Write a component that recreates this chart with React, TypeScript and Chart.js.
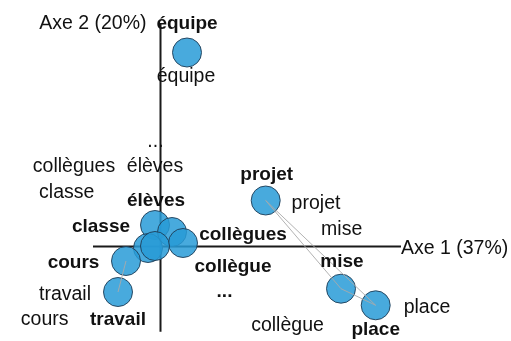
import { useEffect, useRef } from 'react';
import { Chart, registerables } from 'chart.js';

Chart.register(...registerables);

// Row points (bold labels, drawn as circles)
const rowLabels = ['élèves', 'collègue', 'collègues', 'classe', '...', 'cours', 'travail', 'équipe', 'projet', 'mise', 'place'];
const rowX = [-0.055, 0.115, 0.225, -0.125, -0.055, -0.345, -0.425, 0.265, 1.052, 1.805, 2.152];
const rowY = [0.215, 0.145, 0.035, -0.015, 0.005, -0.145, -0.455, 1.94, 0.46, -0.422, -0.588];

// Column points (plain labels, no marker)
const colLabels = ['équipe', '...', 'collègues', 'élèves', 'classe', 'projet', 'mise', 'place', 'collègue', 'travail', 'cours'];
const colX = [0.255, -0.05, -0.865, -0.055, -0.938, 1.555, 1.812, 2.665, 1.27, -0.955, -1.158];
const colY = [1.699, 1.046, 0.801, 0.801, 0.536, 0.433, 0.173, -0.611, -0.794, -0.484, -0.727];

// Axes
const axisNames = ['Axe 1 (37%)', 'Axe 2 (20%)'];
const axis1Range = [-0.675, 2.405];
const axis2Range = [-0.852, 2.235];

// Links between row points
const links: [string, string][] = [
  ['projet', 'mise'],
  ['projet', 'place'],
  ['mise', 'place'],
  ['cours', 'travail'],
];

// Layout: label offsets (px) of row labels from their points
const rowLabelOffsets: [number, number][] = [
  [1, -19.3], [61, 40], [60, -3], [-47, -16], [69.5, 51], [-52.5, 6.5], [0, 33],
  [0, -23.5], [1, -21], [1, -21.4], [0, 30],
];

const FONT = '"Liberation Sans", Arial, sans-serif';

export default function App() {
  const ref = useRef<HTMLCanvasElement | null>(null);

  useEffect(() => {
    document.body.style.margin = '0';
    const canvas = ref.current;
    if (!canvas) return;

    const idx = (n: string) => rowLabels.indexOf(n);

    const linkSets = links.map(([a, b]) => ({
      type: 'line' as const,
      data: [
        { x: rowX[idx(a)], y: rowY[idx(a)] },
        { x: rowX[idx(b)], y: rowY[idx(b)] },
      ],
      showLine: true,
      borderColor: 'rgba(170,170,170,0.9)',
      borderWidth: 1,
      pointRadius: 0,
      order: 1,
    }));

    const labelPlugin = {
      id: 'labels',
      afterDatasetsDraw(chart: any) {
        const ctx = chart.ctx;
        const xs = chart.scales.x;
        const ys = chart.scales.y;
        ctx.save();
        ctx.fillStyle = '#111';
        // column labels
        ctx.font = `19.5px ${FONT}`;
        ctx.textAlign = 'center';
        ctx.textBaseline = 'middle';
        colLabels.forEach((t, i) => {
          ctx.fillText(t, xs.getPixelForValue(colX[i]), ys.getPixelForValue(colY[i]));
        });
        // row labels
        ctx.font = `bold 19px ${FONT}`;
        ctx.textBaseline = 'alphabetic';
        rowLabels.forEach((t, i) => {
          const [dx, dy] = rowLabelOffsets[i];
          ctx.fillText(t, xs.getPixelForValue(rowX[i]) + dx, ys.getPixelForValue(rowY[i]) + dy);
        });
        // axis names
        ctx.font = `19.5px ${FONT}`;
        ctx.textBaseline = 'middle';
        ctx.textAlign = 'left';
        ctx.fillText(axisNames[0], xs.getPixelForValue(axis1Range[1]), ys.getPixelForValue(0) + 2.5);
        ctx.textAlign = 'right';
        ctx.fillText(axisNames[1], xs.getPixelForValue(0) - 14, ys.getPixelForValue(axis2Range[1]) + 1);
        ctx.restore();
      },
    };

    const chart = new Chart(canvas, {
      type: 'scatter',
      data: {
        datasets: [
          {
            type: 'line',
            data: [{ x: axis1Range[0], y: 0 }, { x: axis1Range[1], y: 0 }],
            showLine: true,
            borderColor: '#1a1a1a',
            borderWidth: 2,
            pointRadius: 0,
            order: 3,
          },
          {
            type: 'line',
            data: [{ x: 0, y: axis2Range[0] }, { x: 0, y: axis2Range[1] }],
            showLine: true,
            borderColor: '#1a1a1a',
            borderWidth: 2,
            pointRadius: 0,
            order: 3,
          },
          {
            data: rowX.map((x, i) => ({ x, y: rowY[i] })),
            pointRadius: 14.5,
            pointHoverRadius: 14.5,
            backgroundColor: 'rgba(40,155,215,0.85)',
            borderColor: 'rgba(30,60,85,0.9)',
            borderWidth: 1,
            order: 2,
          },
          ...linkSets,
        ] as any,
      },
      options: {
        animation: false,
        responsive: true,
        maintainAspectRatio: false,
        layout: { padding: 0, autoPadding: false },
        plugins: { legend: { display: false }, tooltip: { enabled: false } },
        scales: {
          x: { type: 'linear', min: -1.605, max: 3.505, display: false },
          y: { type: 'linear', min: -0.945, max: 2.465, display: false },
        },
      } as any,
      plugins: [labelPlugin],
    });

    return () => chart.destroy();
  }, []);

  return (
    <div style={{ width: 511, height: 341, position: 'relative', background: '#fff' }}>
      <canvas ref={ref} />
    </div>
  );
}
